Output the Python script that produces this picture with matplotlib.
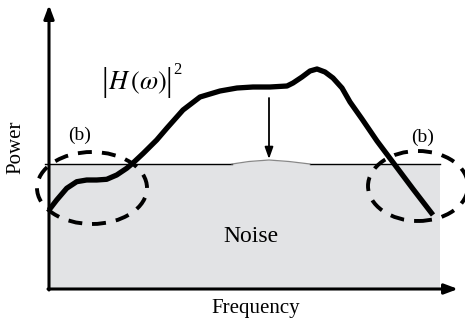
import numpy as np
import matplotlib
matplotlib.use("Agg")
import matplotlib.pyplot as plt
from matplotlib.patches import Ellipse, Rectangle

plt.rcParams['font.family'] = ['Liberation Serif', 'DejaVu Serif']
plt.rcParams['mathtext.fontset'] = 'stix'

# |H(w)|^2 curve (x = frequency, y = power, arbitrary units)
freq = [0, 7.7, 17.7, 27.7, 37.7, 47.7, 57.7, 67.7, 77.7, 84.3, 94.3, 107.7,
        118, 134, 151, 171, 188, 204, 221, 238, 244, 253, 261, 268, 276,
        284, 293, 301, 313, 328, 346, 364, 384]
power = [79, 89, 100.7, 107.3, 109, 109, 109.7, 114, 120.7, 126.3, 135.7, 149,
         161, 179, 192, 198, 201, 202, 202, 203, 206, 212, 218, 220, 217,
         211, 201, 187, 170, 148, 124, 100, 74]

noise_level = 125
noise_end = 391
# small bump of the noise floor under the arrow
bump_x = [183, 200, 220, 240, 261]
bump_y = [125, 127.5, 129, 127.5, 125]

fig = plt.figure(figsize=(4.65, 3.22), dpi=100)
ax = fig.add_axes([0, 0, 1, 1])
ax.set_xlim(-49, 416)
ax.set_ylim(-33, 289)
ax.axis('off')

# noise area
ax.add_patch(Rectangle((0, 0), noise_end, noise_level, facecolor='#e2e3e5',
                       edgecolor='none', zorder=1))
ax.plot([-4, 183], [noise_level, noise_level], color='black', lw=1.0, zorder=2)
ax.plot([261, noise_end], [noise_level, noise_level], color='black', lw=1.0, zorder=2)
ax.fill_between(bump_x, noise_level, bump_y, color='#e2e3e5', lw=0, zorder=1)
ax.plot(bump_x, bump_y, color='#888888', lw=0.9, zorder=2)

# axes arrows
ax.annotate('', xy=(0, 284), xytext=(0, -1),
            arrowprops=dict(arrowstyle='-|>,head_length=0.8,head_width=0.3',
                            lw=2.2, color='black', shrinkA=0, shrinkB=0), zorder=3)
ax.annotate('', xy=(409, 0), xytext=(-1, 0),
            arrowprops=dict(arrowstyle='-|>,head_length=0.8,head_width=0.3',
                            lw=2.2, color='black', shrinkA=0, shrinkB=0), zorder=3)

# transfer function curve
ax.plot(freq, power, color='black', lw=3.8, solid_capstyle='butt',
        solid_joinstyle='round', zorder=4)

# arrow pointing down to the noise
ax.annotate('', xy=(220, 130), xytext=(220, 191),
            arrowprops=dict(arrowstyle='-|>,head_length=0.7,head_width=0.25',
                            lw=1.3, color='black', shrinkA=0, shrinkB=0), zorder=3)

# dashed ellipses (b)
for cx, cy, w, h in [(43, 101, 110, 72), (369, 103, 100, 70)]:
    ax.add_patch(Ellipse((cx, cy), w, h, fill=False, edgecolor='black', lw=2.8,
                         linestyle=(0, (3.6, 2.6)), zorder=5))

# |H(w)|^2 label
ax.text(88, 206, r'$H\,(\omega)$', fontsize=19, ha='center', va='center')
ax.text(55.5, 207, '|', fontsize=24, ha='center', va='center')
ax.text(119.5, 207, '|', fontsize=24, ha='center', va='center')
ax.text(128.5, 219, '2', fontsize=12, ha='center', va='center')

ax.text(31, 154, '(b)', fontsize=14, ha='center', va='center')
ax.text(374, 152, '(b)', fontsize=14, ha='center', va='center')
ax.text(202, 52, 'Noise', fontsize=17, ha='center', va='center')
ax.text(207, -19, 'Frequency', fontsize=15, ha='center', va='center')
ax.text(-33, 142, 'Power', fontsize=15, ha='center', va='center', rotation=90)

fig.savefig('out.png', dpi=100)
